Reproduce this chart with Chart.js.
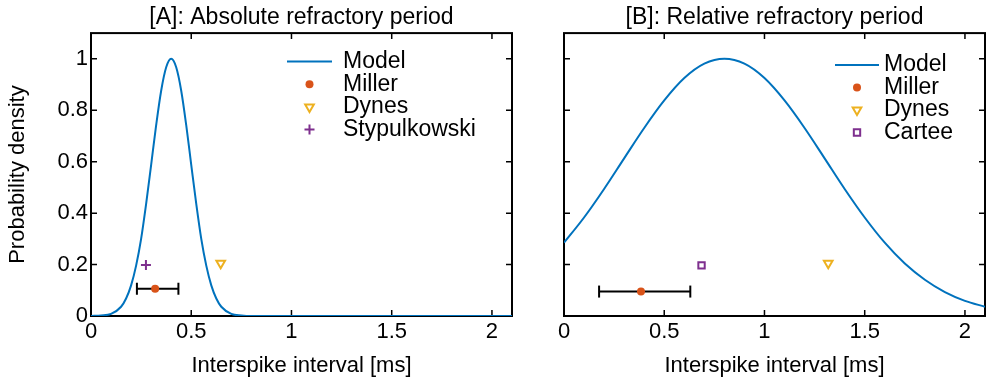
<!DOCTYPE html>
<html>
<head>
<meta charset="utf-8">
<script src="https://cdn.jsdelivr.net/npm/chart.js@4/dist/chart.umd.min.js"></script>
<style>
  body { margin: 0; background: #fff; }
  canvas { position: absolute; top: 0; }
</style>
</head>
<body>
<canvas id="chartA" width="520" height="381" style="left:0px"></canvas>
<canvas id="chartB" width="473" height="381" style="left:520px"></canvas>
<script>
// ticks
const xTicks = [0, 0.5, 1, 1.5, 2];
const xTickLabels = ['0', '0.5', '1', '1.5', '2'];
const yTicks = [0, 0.2, 0.4, 0.6, 0.8, 1];
const yTickLabels = ['0', '0.2', '0.4', '0.6', '0.8', '1'];

// [A] model curve
const modelAX = [0, 0.05, 0.1, 0.15, 0.175, 0.2, 0.225, 0.25, 0.275, 0.3, 0.325, 0.35, 0.375, 0.4,
  0.425, 0.45, 0.475, 0.5, 0.525, 0.55, 0.575, 0.6, 0.625, 0.65, 0.7, 0.75, 0.8, 0.9, 1.0, 1.5, 2.1];
const modelAY = [0, 0.002, 0.008, 0.036, 0.068, 0.119, 0.196, 0.30, 0.436, 0.588, 0.742, 0.876, 0.967, 1,
  0.967, 0.876, 0.742, 0.588, 0.436, 0.30, 0.196, 0.119, 0.068, 0.036, 0.008, 0.002, 0, 0, 0, 0, 0];

// [B] model curve
const modelBX = [0, 0.1, 0.2, 0.3, 0.4, 0.5, 0.6, 0.7, 0.8, 0.9, 1.0, 1.1, 1.2, 1.3, 1.4, 1.5,
  1.6, 1.7, 1.8, 1.9, 2.0, 2.1];
const modelBY = [0.285, 0.383, 0.494, 0.613, 0.731, 0.838, 0.925, 0.981, 1, 0.981, 0.925, 0.838,
  0.731, 0.613, 0.494, 0.383, 0.285, 0.204, 0.141, 0.093, 0.059, 0.036];

// measured points [x, y]
const millerA = [0.32, 0.106];
const millerErrA = [0.229, 0.436];
const dynesA = [0.647, 0.205];
const stypulkowskiA = [0.274, 0.198];

const millerB = [0.384, 0.095];
const millerErrB = [0.175, 0.630];
const dynesB = [1.318, 0.205];
const carteeB = [0.686, 0.197];

const FONT = '"Liberation Sans", Arial, Helvetica, sans-serif';
Chart.defaults.font.family = FONT;
Chart.defaults.font.size = 22;
Chart.defaults.color = '#000';

function toPoints(xs, ys) {
    return xs.map((x, i) => ({ x: x, y: ys[i] }));
}

function modelSet(xs, ys) {
    return {
        label: 'Model', data: toPoints(xs, ys), showLine: true,
        borderColor: '#0072BD', borderWidth: 2, pointRadius: 0,
        cubicInterpolationMode: 'monotone'
    };
}

function markerSet(label, p, style, color, opts) {
    return Object.assign({
        label: label, data: [{ x: p[0], y: p[1] }],
        pointStyle: style, pointRadius: 5, pointRotation: 0,
        pointBorderColor: color, pointBackgroundColor: 'rgba(0,0,0,0)',
        pointBorderWidth: 2, borderColor: color
    }, opts || {});
}

function errSet(err, y) {
    return {
        label: '', data: [{ x: err[0], y: y }, { x: err[1], y: y }], showLine: true,
        borderColor: '#000', borderWidth: 2,
        pointStyle: 'line', pointRotation: 90, pointRadius: 6,
        pointBorderColor: '#000', pointBorderWidth: 2
    };
}

// box with inward ticks on all four sides
const framePlugin = {
    id: 'frame',
    beforeDatasetsDraw(chart) {
        const ctx = chart.ctx;
        const a = chart.chartArea;
        const sx = chart.scales.x, sy = chart.scales.y;
        ctx.save();
        ctx.strokeStyle = '#000';
        ctx.lineWidth = 1.5;
        ctx.beginPath();
        sx.ticks.forEach(t => {
            const px = sx.getPixelForValue(t.value);
            ctx.moveTo(px, a.bottom); ctx.lineTo(px, a.bottom - 6);
            ctx.moveTo(px, a.top); ctx.lineTo(px, a.top + 6);
        });
        sy.ticks.forEach(t => {
            const py = sy.getPixelForValue(t.value);
            ctx.moveTo(a.left, py); ctx.lineTo(a.left + 6, py);
            ctx.moveTo(a.right, py); ctx.lineTo(a.right - 6, py);
        });
        ctx.stroke();
        ctx.lineWidth = 2;
        ctx.strokeRect(a.left, a.top, a.right - a.left, a.bottom - a.top);
        ctx.restore();
    }
};

// legend inside the axes, matlab style
const legendPlugin = {
    id: 'boxLegend',
    afterDraw(chart, args, opts) {
        const ctx = chart.ctx;
        ctx.save();
        ctx.font = '23px ' + FONT;
        ctx.textBaseline = 'middle';
        let row = 0;
        chart.data.datasets.forEach(ds => {
            if (!ds.label) return;
            const y = opts.top + row * opts.step;
            const xm = opts.left + opts.lineLen / 2;
            if (ds.pointRadius === 0) {
                ctx.strokeStyle = ds.borderColor;
                ctx.lineWidth = ds.borderWidth;
                ctx.beginPath();
                ctx.moveTo(opts.left, y);
                ctx.lineTo(opts.left + opts.lineLen, y);
                ctx.stroke();
            } else {
                ctx.strokeStyle = ds.pointBorderColor;
                ctx.fillStyle = ds.pointBackgroundColor;
                ctx.lineWidth = ds.pointBorderWidth;
                Chart.helpers.drawPoint(ctx, {
                    pointStyle: ds.pointStyle, rotation: ds.pointRotation,
                    radius: ds.pointRadius, borderWidth: ds.pointBorderWidth
                }, xm, y);
            }
            ctx.fillStyle = '#000';
            ctx.fillText(ds.label, opts.left + opts.lineLen + opts.gap, y);
            row++;
        });
        ctx.restore();
    }
};

function makeChart(id, title, datasets, showY, yWidth, padRight, legendPos) {
    return new Chart(document.getElementById(id), {
        type: 'scatter',
        data: { datasets: datasets },
        options: {
            responsive: false,
            animation: false,
            layout: { padding: { left: 0, right: padRight, top: 0, bottom: 0 } },
            scales: {
                x: {
                    type: 'linear', min: 0, max: 2.1,
                    afterBuildTicks: s => { s.ticks = xTicks.map(v => ({ value: v })); },
                    afterFit: s => { s.height = 65; },
                    ticks: { padding: 3, callback: (v, i) => xTickLabels[i] },
                    grid: { display: false, drawTicks: false },
                    border: { display: false },
                    title: { display: true, text: 'Interspike interval [ms]', padding: { top: 0, bottom: 2 } }
                },
                y: {
                    type: 'linear', min: 0, max: 1.1,
                    afterBuildTicks: s => { s.ticks = yTicks.map(v => ({ value: v })); },
                    afterFit: s => { s.width = yWidth; },
                    ticks: { display: showY, padding: 3, callback: (v, i) => yTickLabels[i] },
                    grid: { display: false, drawTicks: false },
                    border: { display: false },
                    title: { display: showY, text: 'Probability density', padding: { top: 5, bottom: 0 } }
                }
            },
            plugins: {
                legend: { display: false },
                tooltip: { enabled: false },
                title: {
                    display: true, text: title, fullSize: false,
                    font: { size: 23, weight: 'normal' }, color: '#000',
                    padding: { top: 4, bottom: 1.5 }
                },
                boxLegend: legendPos
            }
        },
        plugins: [framePlugin, legendPlugin]
    });
}

makeChart('chartA', '[A]: Absolute refractory period', [
    modelSet(modelAX, modelAY),
    markerSet('Miller', millerA, 'circle', '#D95319', { pointRadius: 4, pointBorderWidth: 0, pointBackgroundColor: '#D95319' }),
    markerSet('Dynes', dynesA, 'triangle', '#EDB120', { pointRotation: 180 }),
    markerSet('Stypulkowski', stypulkowskiA, 'cross', '#7E2F8E'),
    errSet(millerErrA, millerA[1])
], true, 91, 5, { left: 287, top: 61.5, step: 22.7, lineLen: 45, gap: 11 });

makeChart('chartB', '[B]: Relative refractory period', [
    modelSet(modelBX, modelBY),
    markerSet('Miller', millerB, 'circle', '#D95319', { pointRadius: 4, pointBorderWidth: 0, pointBackgroundColor: '#D95319' }),
    markerSet('Dynes', dynesB, 'triangle', '#EDB120', { pointRotation: 180 }),
    markerSet('Cartee', carteeB, 'rect', '#7E2F8E', { pointRadius: 4.5 }),
    errSet(millerErrB, millerB[1])
], false, 44, 3, { left: 315, top: 65, step: 22.5, lineLen: 44, gap: 5 });
</script>
</body>
</html>
